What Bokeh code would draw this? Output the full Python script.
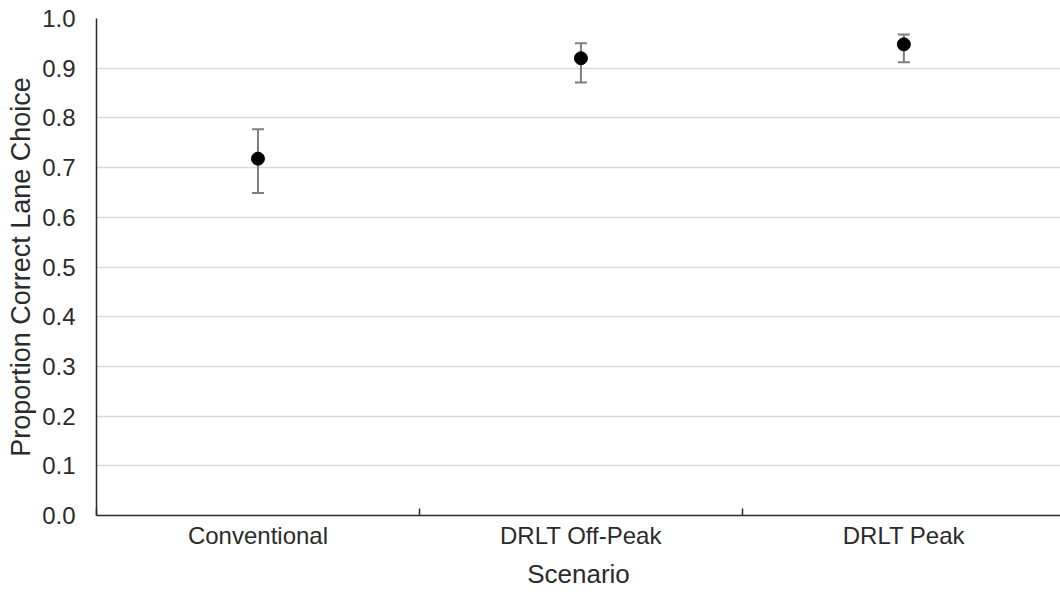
from bokeh.plotting import figure
from bokeh.models import ColumnDataSource, FixedTicker, PrintfTickFormatter, Range1d, Whisker, TeeHead
from bokeh.embed import file_html
from bokeh.resources import INLINE

categories = ["Conventional", "DRLT Off-Peak", "DRLT Peak"]
proportion = [0.718, 0.920, 0.948]
lower = [0.649, 0.871, 0.912]
upper = [0.777, 0.950, 0.968]
y_ticks = [0.0, 0.1, 0.2, 0.3, 0.4, 0.5, 0.6, 0.7, 0.8, 0.9, 1.0]

FONT = "Liberation Sans"
TXT = "#2b2b2b"

xpos = [i + 0.5 for i in range(len(categories))]
src = ColumnDataSource(dict(x=xpos, y=proportion, lo=lower, hi=upper))

p = figure(width=1060, height=592, output_backend="svg", toolbar_location=None,
           x_range=Range1d(0, 2.985), y_range=Range1d(0, 1),
           min_border_left=96, min_border_top=18, min_border_bottom=77, min_border_right=0)
p.outline_line_color = None
p.background_fill_color = "white"
p.border_fill_color = "white"

# grid
p.xgrid.grid_line_color = None
p.ygrid.grid_line_color = "#d9d9d9"
p.ygrid.grid_line_width = 1.5

# x axis
xa = p.xaxis[0]
xa.ticker = FixedTicker(ticks=xpos, minor_ticks=[0, 1, 2, 3])
xa.major_label_overrides = {x: c for x, c in zip(xpos, categories)}
xa.major_tick_out = 0
xa.major_tick_in = 0
xa.minor_tick_in = 7
xa.minor_tick_out = 0
xa.minor_tick_line_color = TXT
xa.minor_tick_line_width = 1.5
xa.axis_line_color = TXT
xa.axis_line_width = 1.5
xa.major_label_standoff = 6
xa.major_label_text_font = FONT
xa.major_label_text_font_size = "24px"
xa.major_label_text_color = TXT
xa.axis_label = "Scenario"
xa.axis_label_text_font = FONT
xa.axis_label_text_font_size = "26px"
xa.axis_label_text_font_style = "normal"
xa.axis_label_text_color = TXT
xa.axis_label_standoff = 7

# y axis
ya = p.yaxis[0]
ya.ticker = FixedTicker(ticks=y_ticks)
ya.formatter = PrintfTickFormatter(format="%.1f")
ya.major_tick_out = 0
ya.major_tick_in = 0
ya.minor_tick_line_color = None
ya.axis_line_color = TXT
ya.axis_line_width = 1.5
ya.major_label_standoff = 21
ya.major_label_text_font = FONT
ya.major_label_text_font_size = "24px"
ya.major_label_text_color = TXT
ya.axis_label = "Proportion Correct Lane Choice"
ya.axis_label_text_font = FONT
ya.axis_label_text_font_size = "27px"
ya.axis_label_text_font_style = "normal"
ya.axis_label_text_color = TXT
ya.axis_label_standoff = 3

# error bars
w = Whisker(source=src, base="x", lower="lo", upper="hi", dimension="height",
            line_color="#7f7f7f", line_width=2,
            upper_head=TeeHead(size=12, line_color="#7f7f7f", line_width=2),
            lower_head=TeeHead(size=12, line_color="#7f7f7f", line_width=2))
p.add_layout(w)

p.scatter("x", "y", source=src, size=13, color="black", marker="circle")

open("out.html", "w").write(file_html(p, INLINE))
